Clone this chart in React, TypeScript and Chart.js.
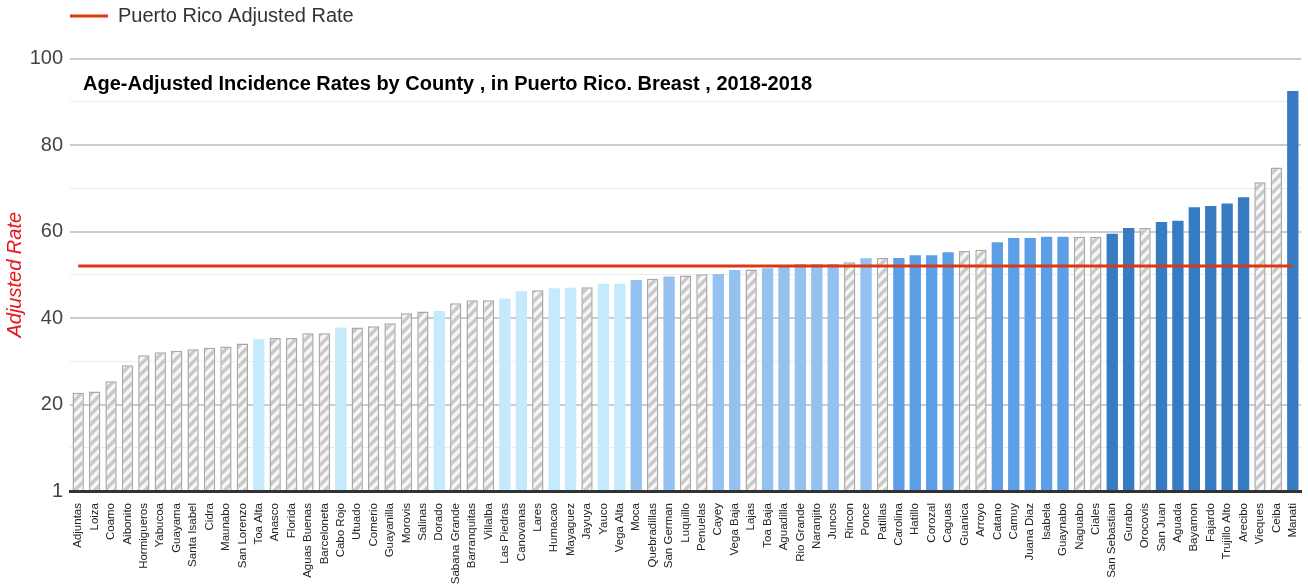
import React, { useEffect, useRef } from 'react';
import { Chart, registerables } from 'chart.js';

Chart.register(...registerables);

const counties = [
  'Adjuntas', 'Loiza', 'Coamo', 'Aibonito', 'Hormigueros', 'Yabucoa', 'Guayama', 'Santa Isabel', 'Cidra', 'Maunabo',
  'San Lorenzo', 'Toa Alta', 'Anasco', 'Florida', 'Aguas Buenas', 'Barceloneta', 'Cabo Rojo', 'Utuado', 'Comerio', 'Guayanilla',
  'Morovis', 'Salinas', 'Dorado', 'Sabana Grande', 'Barranquitas', 'Villalba', 'Las Piedras', 'Canovanas', 'Lares', 'Humacao',
  'Mayaguez', 'Jayuya', 'Yauco', 'Vega Alta', 'Moca', 'Quebradillas', 'San German', 'Luquillo', 'Penuelas', 'Cayey',
  'Vega Baja', 'Lajas', 'Toa Baja', 'Aguadilla', 'Rio Grande', 'Naranjito', 'Juncos', 'Rincon', 'Ponce', 'Patillas',
  'Carolina', 'Hatillo', 'Corozal', 'Caguas', 'Guanica', 'Arroyo', 'Catano', 'Camuy', 'Juana Diaz', 'Isabela',
  'Guaynabo', 'Naguabo', 'Ciales', 'San Sebastian', 'Gurabo', 'Orocovis', 'San Juan', 'Aguada', 'Bayamon', 'Fajardo',
  'Trujillo Alto', 'Arecibo', 'Vieques', 'Ceiba', 'Manati',
];

const adjustedRates = [
  22.7, 23.0, 25.4, 29.1, 31.4, 32.1, 32.4, 32.8, 33.1, 33.4,
  34.1, 35.1, 35.4, 35.4, 36.5, 36.5, 37.8, 37.8, 38.1, 38.8,
  41.1, 41.5, 41.6, 43.4, 44.1, 44.1, 44.5, 46.2, 46.4, 46.9,
  47.0, 47.1, 47.9, 47.9, 48.8, 49.1, 49.6, 49.8, 50.1, 50.2,
  51.1, 51.2, 51.5, 51.9, 52.5, 52.5, 52.5, 52.9, 53.8, 53.9,
  53.9, 54.5, 54.5, 55.2, 55.5, 55.8, 57.5, 58.5, 58.5, 58.8,
  58.8, 58.8, 58.8, 59.5, 60.8, 60.8, 62.2, 62.5, 65.6, 65.9,
  66.5, 67.9, 71.4, 74.8, 92.5,
];

// 0 = not significantly different (hatched), 1..4 = rate groups (light to dark blue)
const rateGroups = [
  0, 0, 0, 0, 0, 0, 0, 0, 0, 0,
  0, 1, 0, 0, 0, 0, 1, 0, 0, 0,
  0, 0, 1, 0, 0, 0, 1, 1, 0, 1,
  1, 0, 1, 1, 2, 0, 2, 0, 0, 2,
  2, 0, 2, 2, 2, 2, 2, 0, 2, 0,
  3, 3, 3, 3, 0, 0, 3, 3, 3, 3,
  3, 0, 0, 4, 4, 0, 4, 4, 4, 4,
  4, 4, 0, 0, 4,
];

const puertoRicoRate = 52.0;
const yTickValues = [0, 20, 40, 60, 80, 100];
const yTickLabels = ['1', '20', '40', '60', '80', '100'];
const chartTitle = 'Age-Adjusted Incidence Rates by County , in Puerto Rico. Breast , 2018-2018';
const legendLabel = 'Puerto Rico Adjusted Rate';
const yAxisTitle = 'Adjusted Rate';

const FONT = "Arial, 'Liberation Sans', Helvetica, sans-serif";
const RED = '#dc3912';
const groupColors = ['', '#c4eafb', '#94c1ef', '#5d9fe6', '#377bc2'];

function makeHatch(): CanvasPattern | string {
  const c = document.createElement('canvas');
  c.width = 10;
  c.height = 10;
  const g = c.getContext('2d');
  if (!g) return '#dddddd';
  g.fillStyle = '#c9c9c9';
  g.fillRect(0, 0, 10, 10);
  g.strokeStyle = '#f7f7f7';
  g.lineWidth = 3.5;
  g.beginPath();
  g.moveTo(-1, 11);
  g.lineTo(11, -1);
  g.moveTo(-2, 2);
  g.lineTo(2, -2);
  g.moveTo(8, 12);
  g.lineTo(12, 8);
  g.stroke();
  return g.createPattern(c, 'repeat') || '#dddddd';
}

const innerTitlePlugin = {
  id: 'innerTitle',
  afterDraw(chart: any) {
    const { ctx, chartArea } = chart;
    ctx.save();
    ctx.font = `bold 20px ${FONT}`;
    ctx.fillStyle = '#000';
    ctx.textAlign = 'left';
    ctx.textBaseline = 'alphabetic';
    ctx.fillText(chartTitle, chartArea.left + 13, chartArea.top + 31);
    ctx.restore();
  },
};

export default function App() {
  const canvasRef = useRef<HTMLCanvasElement>(null);

  useEffect(() => {
    if (!canvasRef.current) return;
    const hatch = makeHatch();
    const chart = new Chart(canvasRef.current, {
      data: {
        labels: counties,
        datasets: [
          {
            type: 'bar',
            label: 'County Rate',
            data: adjustedRates,
            backgroundColor: rateGroups.map((g) => (g === 0 ? hatch : groupColors[g])),
            borderColor: rateGroups.map((g) => (g === 0 ? '#a8a8a8' : groupColors[g])),
            borderWidth: rateGroups.map((g) => (g === 0 ? 1.5 : 0)),
            barPercentage: 0.69,
            categoryPercentage: 1,
            order: 2,
          } as any,
          {
            type: 'line',
            label: legendLabel,
            data: counties.map(() => puertoRicoRate),
            borderColor: RED,
            backgroundColor: RED,
            borderWidth: 3,
            pointRadius: 0,
            pointHoverRadius: 0,
            pointStyle: 'line',
            pointBorderColor: RED,
            pointBackgroundColor: RED,
            pointBorderWidth: 3,
            order: 1,
          } as any,
        ],
      },
      options: {
        animation: false,
        responsive: true,
        maintainAspectRatio: false,
        layout: { padding: { top: 6, right: 7, left: 0, bottom: 0 } },
        plugins: {
          legend: {
            position: 'top',
            align: 'start',
            fullSize: false,
            labels: {
              filter: (item: any) => item.datasetIndex === 1,
              usePointStyle: true,
              pointStyleWidth: 38,
              padding: 0,
              color: '#333',
              font: { family: FONT, size: 20 },
            },
          } as any,
          title: {
            display: true,
            text: '',
            padding: 0,
            font: { size: 22.5, lineHeight: 1 },
            position: 'top',
            weight: 500,
          } as any,
          tooltip: { enabled: false },
        },
        scales: {
          x: {
            grid: { display: false, drawTicks: false },
            border: { display: true, color: '#333', width: 3 },
            ticks: {
              autoSkip: false,
              maxRotation: 90,
              minRotation: 90,
              padding: 12,
              color: '#222',
              font: { family: FONT, size: 11.5 },
            },
            afterFit: (s: any) => {
              s.height = 94;
              s.paddingLeft = 0;
              s.paddingRight = 0;
            },
          },
          y: {
            min: 0,
            max: 100,
            ticks: {
              stepSize: 10,
              padding: 7,
              color: '#444',
              font: { family: FONT, size: 20 },
              callback: (v: any) => {
                const i = yTickValues.indexOf(Number(v));
                return i >= 0 ? yTickLabels[i] : '';
              },
            },
            grid: {
              drawTicks: false,
              color: (c: any) => (c.tick && c.tick.value % 20 === 0 ? '#cccccc' : '#ebebeb'),
              lineWidth: (c: any) => (c.tick && c.tick.value % 20 === 0 ? 2 : 1),
            },
            border: { display: false },
            title: {
              display: true,
              text: yAxisTitle,
              color: '#e8161b',
              font: { family: FONT, size: 20, style: 'italic' },
              padding: { top: 3, bottom: 0 },
            },
            afterFit: (s: any) => {
              s.width = 70;
            },
          },
        },
      } as any,
      plugins: [innerTitlePlugin],
    });
    return () => chart.destroy();
  }, []);

  return (
    <div style={{ position: 'absolute', left: 0, top: 0, width: 1308, height: 585 }}>
      <canvas ref={canvasRef} />
    </div>
  );
}
